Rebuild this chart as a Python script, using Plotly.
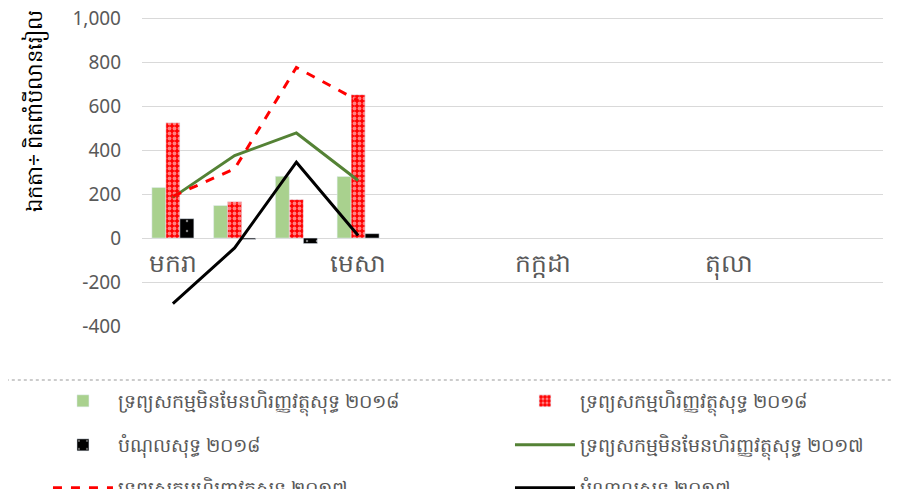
import plotly.graph_objects as go

# twelve months on the category axis, only every third one labelled
tick_pos = [0, 3, 6, 9]
tick_text = ["មករា", "មេសា", "កក្កដា", "តុលា"]

y_vals = [-400, -200, 0, 200, 400, 600, 800, 1000]
y_text = ["-400", "-200", "0", "200", "400", "600", "800", "1,000"]

x_data = [0, 1, 2, 3]

nonfin_2018 = [230, 148, 281, 280]
fin_2018 = [525, 165, 175, 652]
liab_2018 = [88, -6, -25, 20]

nonfin_2017 = [185, 375, 478, 262]
fin_2017 = [190, 315, 776, 625]
liab_2017 = [-298, -45, 345, 12]

names = [
    "ទ្រព្យសកម្មមិនមែនហិរញ្ញវត្ថុសុទ្ធ ២០១៨",
    "ទ្រព្យសកម្មហិរញ្ញវត្ថុសុទ្ធ ២០១៨",
    "បំណុលសុទ្ធ ២០១៨",
    "ទ្រព្យសកម្មមិនមែនហិរញ្ញវត្ថុសុទ្ធ ២០១៧",
    "ទេពសេកមហិរពាវតសទ ២០១៧",
    "បំណាលសទ ២០១៧",
]
y_title = "ឯកតា÷ ពិតពាំបីលានរៀល"

grey = "#595959"

fig = go.Figure()

fig.add_trace(go.Bar(x=x_data, y=nonfin_2018, name=names[0], marker_color="#A9D18E",
                     legend="legend"))
fig.add_trace(go.Bar(x=x_data, y=fin_2018, name=names[1], legend="legend2",
                     marker=dict(color="#FF0000",
                                 pattern=dict(shape=".", fgcolor="white", bgcolor="#FF0000",
                                              size=5, solidity=0.45))))
fig.add_trace(go.Bar(x=x_data, y=liab_2018, name=names[2], legend="legend3",
                     marker=dict(color="black",
                                 pattern=dict(shape=".", fgcolor="white", bgcolor="black",
                                              size=10, solidity=0.05))))

fig.add_trace(go.Scatter(x=x_data, y=nonfin_2017, name=names[3], mode="lines",
                         legend="legend4", line=dict(color="#548235", width=3)))
fig.add_trace(go.Scatter(x=x_data, y=fin_2017, name=names[4], mode="lines",
                         legend="legend5", line=dict(color="#FF0000", width=3, dash="dash")))
fig.add_trace(go.Scatter(x=x_data, y=liab_2017, name=names[5], mode="lines",
                         legend="legend6", line=dict(color="black", width=3)))

# one legend per entry: two columns, three rows below the plot
col_x = [-0.1269, 0.4966]
row_y = [-0.2419, -0.3839, -0.5226]
legends = {}
for i in range(6):
    key = "legend" if i == 0 else f"legend{i + 1}"
    legends[key] = dict(x=col_x[i % 2], y=row_y[i // 2], xanchor="left", yanchor="middle",
                        orientation="h", itemwidth=60, bgcolor="rgba(0,0,0,0)",
                        font=dict(size=19, color=grey))

# page body adds an 8px offset, so the figure is drawn 8px smaller
fig.update_layout(
    width=892, height=481,
    margin=dict(l=134, r=17, t=8, b=163, autoexpand=False),
    plot_bgcolor="white", paper_bgcolor="white",
    barmode="group", bargap=0.32, bargroupgap=0,
    font=dict(family="Noto Sans, DejaVu Sans", color=grey),
    showlegend=True,
    xaxis=dict(range=[-0.5, 11.5], tickvals=tick_pos, ticktext=tick_text,
               anchor="free", position=400 / 1410, showgrid=False, zeroline=False,
               showline=False, ticks="", ticklabelstandoff=8,
               tickfont=dict(size=25, color=grey)),
    yaxis=dict(range=[-400, 1010], tickvals=y_vals, ticktext=y_text, showgrid=True,
               gridcolor="#d9d9d9", gridwidth=1, zeroline=True, zerolinecolor="#d9d9d9",
               zerolinewidth=1, ticklabelstandoff=20, ticklabeloverflow="allow",
               tickfont=dict(size=19, color=grey)),
    annotations=[dict(text=y_title, textangle=-90, xref="paper", yref="paper",
                      x=-0.146, y=0.693, xanchor="center", yanchor="middle",
                      showarrow=False, font=dict(size=21, color="black"))],
    shapes=[dict(type="line", xref="paper", yref="paper", x0=-0.2, x1=1.03,
                 y0=-0.1742, y1=-0.1742, line=dict(color="#cccccc", width=2, dash="dot"))],
    **legends,
)

fig.write_html("out.html")
